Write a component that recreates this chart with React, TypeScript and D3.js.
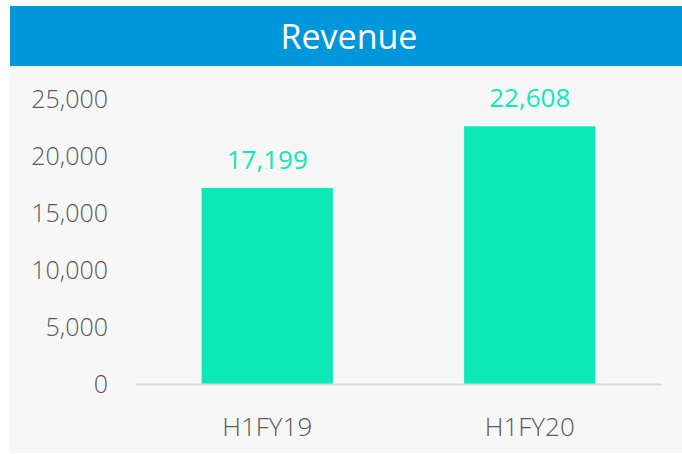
import { useEffect, useRef } from "react";
import * as d3 from "d3";

const categories = ["H1FY19", "H1FY20"];
const revenue = [17199, 22608];
const yTicks = [0, 5000, 10000, 15000, 20000, 25000];

const WIDTH = 682;
const HEIGHT = 454;
const FONT = "'Open Sans', 'Noto Sans', sans-serif";

export default function App() {
  const ref = useRef<SVGSVGElement>(null);

  useEffect(() => {
    if (!ref.current) return;
    const svg = d3.select(ref.current);
    svg.selectAll("*").remove();

    // panel background + title bar
    svg.append("rect")
      .attr("x", 10).attr("y", 66)
      .attr("width", WIDTH - 10).attr("height", 387)
      .attr("fill", "#f7f7f7");
    svg.append("rect")
      .attr("x", 10).attr("y", 6)
      .attr("width", WIDTH - 10).attr("height", 60)
      .attr("fill", "#0097da");
    svg.append("text")
      .attr("x", 349).attr("y", 49)
      .attr("text-anchor", "middle")
      .attr("font-family", FONT)
      .attr("font-size", 34)
      .attr("fill", "#ffffff")
      .text("Revenue");

    const x = d3.scaleBand().domain(categories).range([136, 661])
      .paddingInner(0.5).paddingOuter(0.25);
    const y = d3.scaleLinear().domain([0, 25000]).range([384, 99]);

    // y tick labels
    svg.append("g").selectAll("text")
      .data(yTicks)
      .enter().append("text")
      .attr("x", 108)
      .attr("y", d => y(d))
      .attr("dy", "0.35em")
      .attr("text-anchor", "end")
      .attr("font-family", FONT)
      .attr("font-weight", 300)
      .attr("font-size", 25)
      .attr("fill", "#595959")
      .text(d => d3.format(",")(d));

    // bars
    svg.append("g").selectAll("rect")
      .data(revenue)
      .enter().append("rect")
      .attr("x", (_, i) => x(categories[i])!)
      .attr("y", d => y(d))
      .attr("width", x.bandwidth())
      .attr("height", d => y(0) - y(d))
      .attr("fill", "#0de8b9");

    // baseline
    svg.append("line")
      .attr("x1", 136).attr("x2", 661)
      .attr("y1", y(0) + 0.5).attr("y2", y(0) + 0.5)
      .attr("stroke", "#d9d9d9")
      .attr("stroke-width", 2);

    // value labels
    svg.append("g").selectAll("text")
      .data(revenue)
      .enter().append("text")
      .attr("x", (_, i) => x(categories[i])! + x.bandwidth() / 2)
      .attr("y", d => y(d) - 19)
      .attr("text-anchor", "middle")
      .attr("font-family", FONT)
      .attr("font-size", 26)
      .attr("fill", "#0de8b9")
      .text(d => d3.format(",")(d));

    // category labels
    svg.append("g").selectAll("text")
      .data(categories)
      .enter().append("text")
      .attr("x", d => x(d)! + x.bandwidth() / 2)
      .attr("y", 436)
      .attr("text-anchor", "middle")
      .attr("font-family", FONT)
      .attr("font-weight", 300)
      .attr("font-size", 26)
      .attr("fill", "#595959")
      .text(d => d);
  }, []);

  return (
    <svg
      ref={ref}
      width={WIDTH}
      height={HEIGHT}
      style={{ position: "absolute", left: 0, top: 0, background: "#ffffff" }}
    ></svg>
  );
}
